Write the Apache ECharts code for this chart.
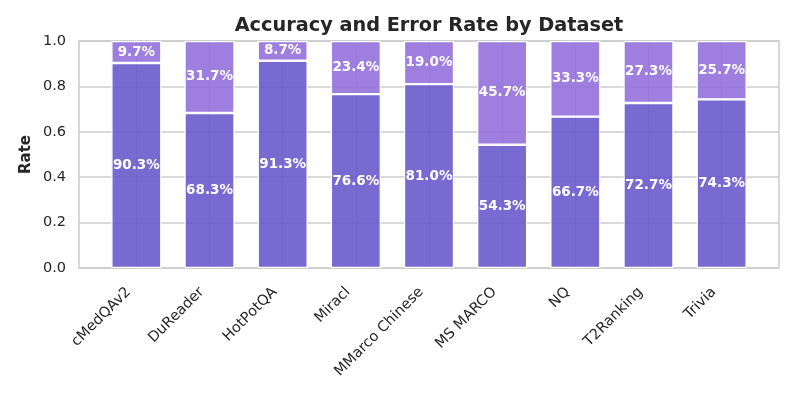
<!DOCTYPE html>
<html>
<head>
<meta charset="utf-8">
<script src="https://cdn.jsdelivr.net/npm/echarts@6/dist/echarts.min.js"></script>
<style>
  html, body { margin: 0; padding: 0; background: #fff; }
  #chart { width: 797px; height: 399px; }
</style>
</head>
<body>
<div id="chart"></div>
<script>
const datasets = ['cMedQAv2', 'DuReader', 'HotPotQA', 'Miracl', 'MMarco Chinese', 'MS MARCO', 'NQ', 'T2Ranking', 'Trivia']
const accuracy = [0.903, 0.683, 0.913, 0.766, 0.810, 0.543, 0.667, 0.727, 0.743]
const errorRate = [0.097, 0.317, 0.087, 0.234, 0.190, 0.457, 0.333, 0.273, 0.257]
const yTicks = [0, 0.2, 0.4, 0.6, 0.8, 1.0]

const textColor = '#262626'
const gridColor = '#cccccc'
const font = 'DejaVu Sans'

const chart = echarts.init(document.getElementById('chart'), null, { renderer: 'canvas' })

const pctLabel = {
  show: true,
  position: 'inside',
  color: '#fff',
  fontFamily: font,
  fontWeight: 'bold',
  fontSize: 13.5,
  formatter: p => (p.value * 100).toFixed(1) + '%'
}

chart.setOption({
  animation: false,
  title: {
    text: 'Accuracy and Error Rate by Dataset',
    left: 429,
    textAlign: 'center',
    top: 16,
    padding: 0,
    textStyle: { fontFamily: font, fontWeight: 'bold', fontSize: 19.3, color: textColor }
  },
  grid: [
    // frame + horizontal grid lines
    { left: 79, right: 18, top: 41, bottom: 131, show: true, borderColor: gridColor, borderWidth: 1.5, z: 0 },
    // vertical grid lines at category centres
    { left: 136.35, right: 75.35, top: 41, bottom: 131 },
    // bars
    { left: 99.77, right: 38.77, top: 41, bottom: 131 }
  ],
  xAxis: [
    { gridIndex: 0, type: 'value', min: 0, max: 1, show: false },
    {
      gridIndex: 1, type: 'value', min: 0, max: 8, interval: 1,
      axisLine: { show: false }, axisTick: { show: false }, axisLabel: { show: false },
      splitLine: { show: true, lineStyle: { color: gridColor, width: 1.2 } }
    },
    {
      gridIndex: 2, type: 'category', data: datasets,
      axisLine: { show: false }, axisTick: { show: false },
      axisLabel: {
        rotate: 45, interval: 0, margin: 14, padding: [0, 11, 0, 0],
        color: textColor, fontFamily: font, fontSize: 14.5
      }
    }
  ],
  yAxis: [
    {
      gridIndex: 0, type: 'value', min: 0, max: 1, interval: 0.2,
      name: 'Rate', nameLocation: 'middle', nameGap: 45, nameMoveOverlap: false,
      nameTextStyle: { fontFamily: font, fontWeight: 'bold', fontSize: 15, color: textColor },
      axisLine: { show: false }, axisTick: { show: false },
      axisLabel: { margin: 13, color: textColor, fontFamily: font, fontSize: 14.5, formatter: v => v.toFixed(1) },
      splitLine: { show: true, lineStyle: { color: gridColor, width: 1.5 } }
    },
    { gridIndex: 1, type: 'value', min: 0, max: 1, show: false },
    { gridIndex: 2, type: 'value', min: 0, max: 1, show: false }
  ],
  series: [
    {
      name: 'Accuracy', type: 'bar', stack: 'rate', xAxisIndex: 2, yAxisIndex: 2,
      barWidth: 50, data: accuracy,
      itemStyle: { color: 'rgba(106,90,205,0.9)', borderColor: '#fff', borderWidth: 1.2 },
      label: pctLabel
    },
    {
      name: 'Error Rate', type: 'bar', stack: 'rate', xAxisIndex: 2, yAxisIndex: 2,
      barWidth: 50, data: errorRate,
      itemStyle: { color: 'rgba(147,112,219,0.9)', borderColor: '#fff', borderWidth: 1.2 },
      label: pctLabel
    }
  ]
})
</script>
</body>
</html>
